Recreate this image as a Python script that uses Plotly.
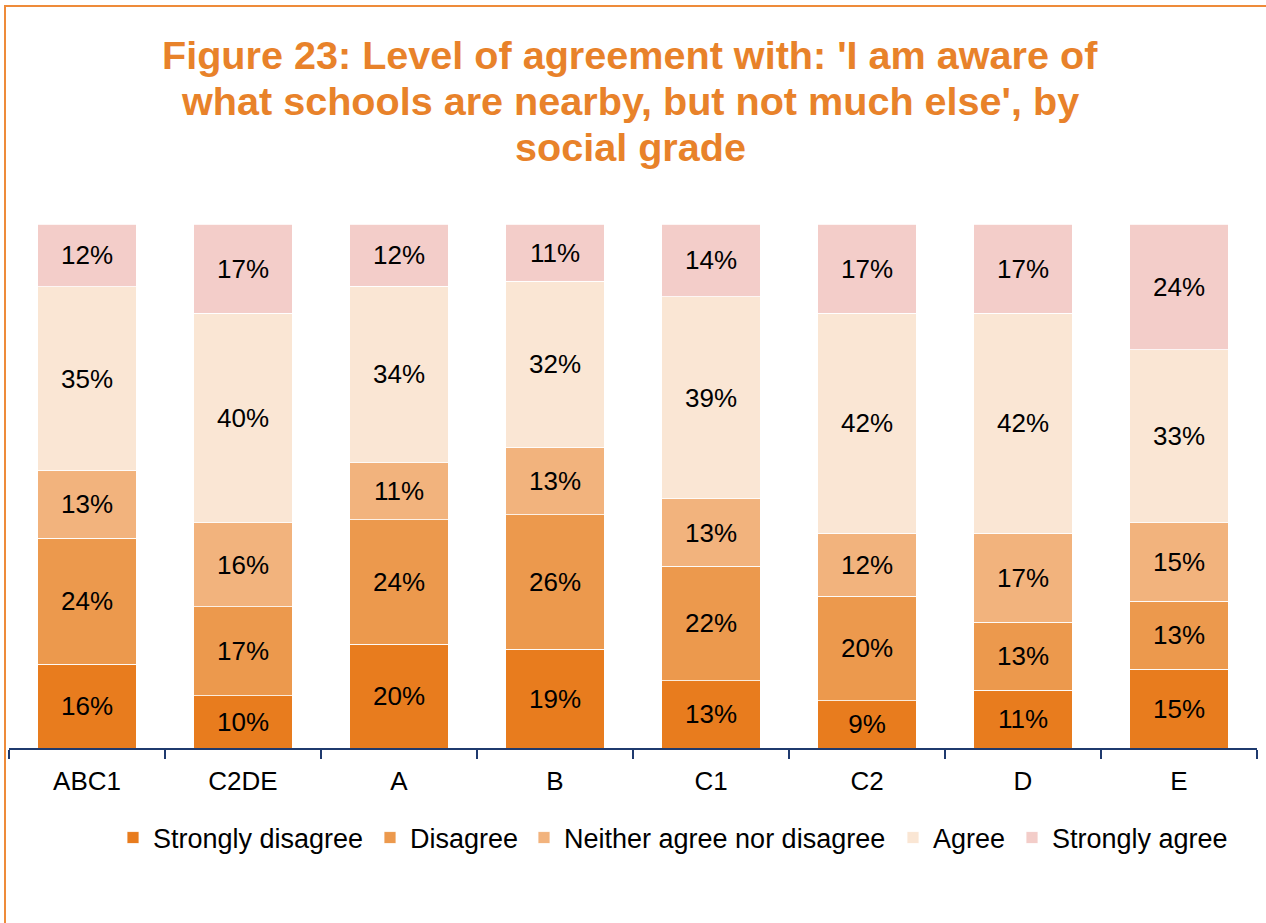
import plotly.graph_objects as go

categories = ["ABC1", "C2DE", "A", "B", "C1", "C2", "D", "E"]
strongly_disagree = [16, 10, 20, 19, 13, 9, 11, 15]
disagree = [24, 17, 24, 26, 22, 20, 13, 13]
neither = [13, 16, 11, 13, 13, 12, 17, 15]
agree = [35, 40, 34, 32, 39, 42, 42, 33]
strongly_agree = [12, 17, 12, 11, 14, 17, 17, 24]

series_names = ["Strongly disagree", "Disagree", "Neither agree nor disagree", "Agree", "Strongly agree"]
series_values = [strongly_disagree, disagree, neither, agree, strongly_agree]
series_colors = ["#E87C1E", "#EC994D", "#F2B37D", "#FAE6D4", "#F3CDC9"]

title_lines = [
    "Figure 23: Level of agreement with: 'I am aware of",
    "what schools are nearby, but not much else', by",
    "social grade",
]

FONT = "Liberation Sans, Arial, sans-serif"

W, H = 1266, 923
ml, mr, mt, mb = 9, 9, 224, 175
pw = W - ml - mr
ph = H - mt - mb


def px_x(p):
    return (p - ml) / pw


def px_y(p):
    return (H - mb - p) / ph


# legend text start positions (pixels) for each series
legend_text_px = [153, 410, 564, 933, 1052]
legend_ids = ["legend", "legend2", "legend3", "legend4", "legend5"]

fig = go.Figure()
for i, (name, vals, color) in enumerate(zip(series_names, series_values, series_colors)):
    fig.add_trace(go.Bar(
        name=name, x=categories, y=vals,
        legend=legend_ids[i],
        marker=dict(color=color, line=dict(color="rgba(255,255,255,0.8)", width=1)),
        text=[f"{v}%" for v in vals], texttemplate="%{text}",
        textposition="inside", insidetextanchor="middle", textangle=0,
        constraintext="none",
        textfont=dict(family=FONT, size=26, color="#000000"),
        hoverinfo="skip",
    ))

legend_layout = {}
for i, lid in enumerate(legend_ids):
    legend_layout[lid] = dict(
        orientation="h",
        x=px_x(legend_text_px[i] - 40), xanchor="left",
        y=px_y(838), yanchor="middle",
        font=dict(family=FONT, size=27, color="#000000"),
        itemwidth=30, bgcolor="rgba(0,0,0,0)", borderwidth=0,
    )

annotations = []
for j, (line, yc) in enumerate(zip(title_lines, [55, 101, 147])):
    annotations.append(dict(
        text=line, xref="paper", yref="paper",
        x=px_x(630), y=px_y(yc), xanchor="center", yanchor="middle",
        showarrow=False,
        font=dict(family=FONT, size=39.6, color="#E8822A", weight="bold"),
    ))

fig.update_layout(
    width=W, height=H,
    barmode="stack", barnorm="percent", bargap=0.37,
    paper_bgcolor="white", plot_bgcolor="white",
    margin=dict(l=ml, r=mr, t=mt, b=mb, autoexpand=False),
    xaxis=dict(
        showline=True, linecolor="#1F3A6E", linewidth=1.5,
        ticks="outside", tickson="boundaries", ticklen=9, tickcolor="#1F3A6E", tickwidth=1.5,
        tickfont=dict(family=FONT, size=26, color="#000000"),
        ticklabelstandoff=9,
        range=[-0.5, 7.5], showgrid=False, fixedrange=True,
    ),
    yaxis=dict(visible=False, range=[0, 100], showgrid=False, fixedrange=True),
    showlegend=True,
    hovermode=False,
    annotations=annotations,
    shapes=[dict(
        type="rect", xref="paper", yref="paper",
        x0=px_x(5), x1=px_x(1272), y0=px_y(930), y1=px_y(6),
        line=dict(color="#EE8B3A", width=2), fillcolor="rgba(0,0,0,0)", layer="above",
    )],
    **legend_layout,
)

fig.write_html("out.html", config={"displayModeBar": False, "staticPlot": True},
               post_script="document.body.style.margin='0';")
